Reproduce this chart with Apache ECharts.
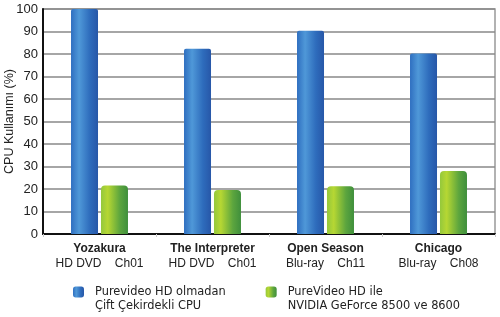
<!DOCTYPE html>
<html><head><meta charset="utf-8">
<script src="https://cdn.jsdelivr.net/npm/echarts@6/dist/echarts.min.js"></script>
<style>html,body{margin:0;padding:0;background:#fff}#c{width:500px;height:317px}</style>
</head><body><div id="c"></div>
<script>
const categories = ['Yozakura', 'The Interpreter', 'Open Season', 'Chicago'];
const subtitles = ['HD DVD    Ch01', 'HD DVD    Ch01', 'Blu-ray    Ch11', 'Blu-ray    Ch08'];
const seriesNames = ['Purevideo HD olmadan\nÇift Çekirdekli CPU', 'PureVideo HD ile\nNVIDIA GeForce 8500 ve 8600'];
const withoutPV = [100, 82.3, 90.3, 80.2];
const withPV = [21.6, 19.6, 21.2, 28];
const yTicks = {min: 0, max: 100, interval: 10};
const yTitle = 'CPU Kullanımı (%)';

const blueGrad = new echarts.graphic.LinearGradient(0,0,1,0,[
  {offset:0,color:'#2f6fc0'},{offset:0.3,color:'#4f98d8'},{offset:0.7,color:'#2e6cbc'},{offset:1,color:'#2757a8'}]);
const greenGrad = new echarts.graphic.LinearGradient(0,0,1,0,[
  {offset:0,color:'#94c83c'},{offset:0.25,color:'#b6d733'},{offset:0.7,color:'#5ca53e'},{offset:1,color:'#3f8f3c'}]);

const chart = echarts.init(document.getElementById('c'), null, {renderer:'canvas'});
chart.setOption({
  animation:false,
  textStyle:{fontFamily:'Liberation Sans'},
  grid:{left:43,right:5,top:9,bottom:83,show:true,borderColor:'#999',borderWidth:1.5,outerBoundsMode:'none',containLabel:false},
  legend:{
    left:73, top:271, padding:0, itemWidth:11, itemHeight:11, itemGap:40,
    icon:'roundRect',
    formatter:name=>' \n'+name,
    textStyle:{fontFamily:'DejaVu Sans',fontSize:11.4,color:'#222',lineHeight:14,padding:[0,0,0,6]},
    data:[{name:seriesNames[0],itemStyle:{color:blueGrad}},{name:seriesNames[1],itemStyle:{color:greenGrad}}]
  },
  xAxis:{
    type:'category', data:categories,
    axisLine:{show:true,lineStyle:{color:'#111',width:2}},
    axisTick:{show:true,length:3,lineStyle:{color:'#ccc'}},
    axisLabel:{
      margin:7, interval:0, hideOverlap:false,
      formatter:(v,i)=>'{b|'+v+'}\n{s|'+subtitles[i]+'}',
      rich:{
        b:{fontWeight:'bold',fontSize:12,color:'#222',fontFamily:'Liberation Sans',lineHeight:15},
        s:{fontSize:12,color:'#222',fontFamily:'Liberation Sans',lineHeight:15}
      }
    }
  },
  yAxis:{
    type:'value', min:yTicks.min, max:yTicks.max, interval:yTicks.interval,
    name:yTitle, nameLocation:'middle', nameGap:27, nameRotate:90, nameMoveOverlap:false,
    nameTextStyle:{fontSize:12.5,color:'#222',fontFamily:'Liberation Sans',padding:[0,0,0,0]},
    axisLine:{show:true,lineStyle:{color:'#111',width:2}},
    axisTick:{show:false},
    axisLabel:{fontSize:13,color:'#222',margin:5},
    splitLine:{lineStyle:{color:'#888',width:1.5}}
  },
  series:[
    {name:seriesNames[0],type:'bar',data:withoutPV,barWidth:27,barGap:'11%',
     itemStyle:{color:blueGrad,borderRadius:[2,2,0,0]}},
    {name:seriesNames[1],type:'bar',data:withPV,barWidth:27,barGap:'11%',
     itemStyle:{color:greenGrad,borderRadius:[4,4,0,0]}}
  ]
});
</script></body></html>
